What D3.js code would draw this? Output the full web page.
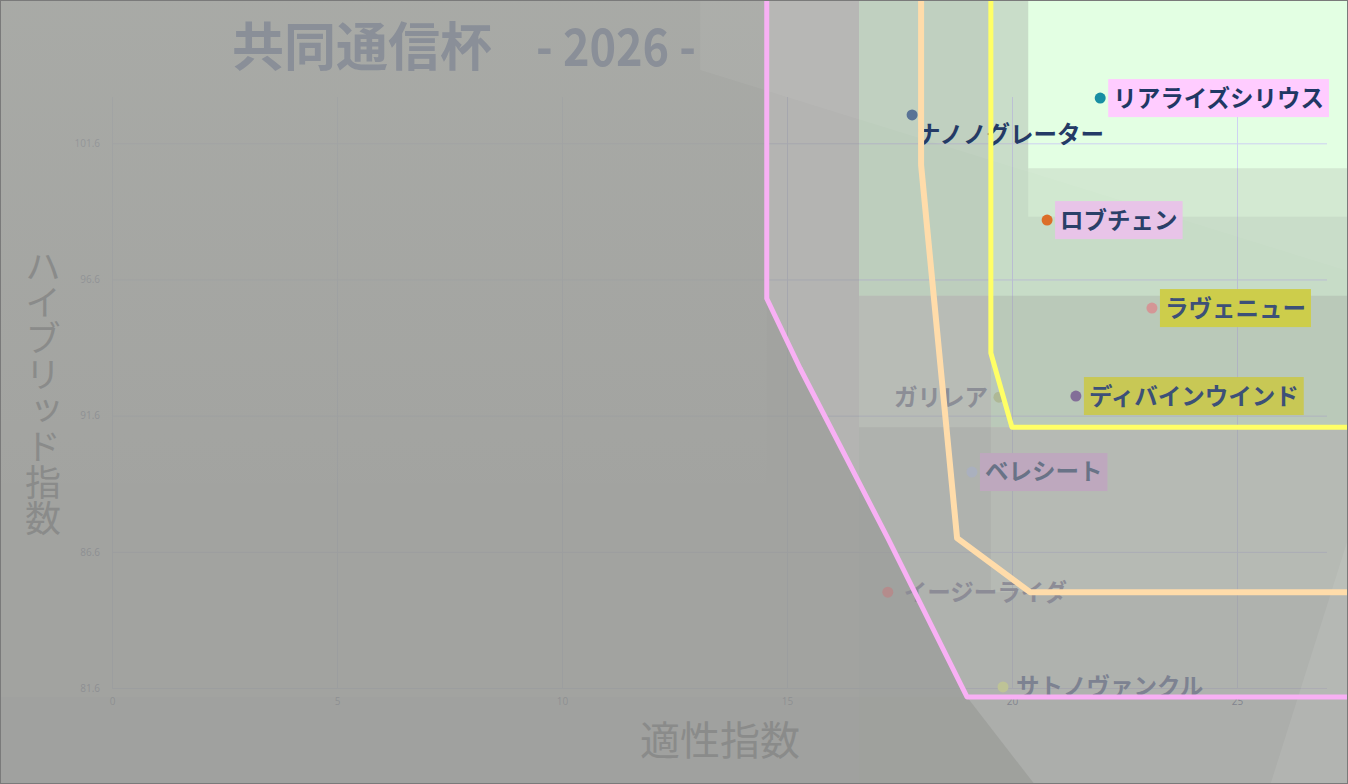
<!DOCTYPE html>
<html>
<head>
<meta charset="utf-8">
<script src="https://cdn.jsdelivr.net/npm/d3@7"></script>
<style>
  html, body { margin: 0; padding: 0; background: #fff; }
  svg { display: block; }
  text { font-family: "Noto Sans CJK JP", "Noto Sans", sans-serif; }
</style>
</head>
<body>
<div id="chart"></div>
<script>
// --- data ---
const horses = ["リアライズシリウス", "ナノノグレーター", "ロブチェン", "ラヴェニュー", "ディバインウインド",
                "ガリレア", "ベレシート", "イージーライダ", "サトノヴァンクル"];
const aptitude = [21.96, 17.78, 20.78, 23.11, 21.42, 19.71, 19.11, 17.24, 19.8];   // 適性指数
const hybrid   = [103.26, 102.64, 98.78, 95.55, 92.32, 92.28, 89.53, 85.12, 81.64]; // ハイブリッド指数

const xTicks = [0, 5, 10, 15, 20, 25];
const yTicks = [81.6, 86.6, 91.6, 96.6, 101.6];

// border lines (chart units)
const pinkLine   = [[14.55, 107], [14.55, 95.9], [15.29, 93.34], [17.24, 87.1], [19.0, 81.27], [27.6, 81.27]];
const peachLine  = [[17.98, 107], [17.98, 100.8], [18.78, 87.1], [20.4, 85.12], [27.6, 85.12]];
const yellowLine = [[19.53, 107], [19.53, 93.9], [20.0, 91.17], [27.6, 91.17]];

// grey veil: each layer covers everything except the area right of veilX and above veilY
const veilX = [20.36, 20.36, 16.6, 16.6, 19.53, -3];
const veilY = [100.68, 98.9, 96.0, 91.17, 85.12, 81.27];
const veilAlpha = [0.225, 0.15, 0.27, 0.25, 0.2, 0.1];
// the heaviest veil sits outside the pink line
const outsidePink = [[-3, 107], [14.55, 107], [14.55, 95.9], [15.29, 93.34], [17.24, 87.1], [19.0, 81.27], [21.0, 77], [-3, 77]];
// green tint of the upper right zone
const greenZone = [[16.6, 107], [30, 107], [30, 91.17], [19.53, 91.17], [19.53, 96.0], [16.6, 96.0]];

const labelStyle = {
  "リアライズシリウス": { dot: "#178ea3", box: "#ffccff", ink: "#1f3864" },
  "ナノノグレーター":   { dot: "#5a7396", box: null,      ink: "#243a66", dx: -8, dy: 20 },
  "ロブチェン":         { dot: "#dc6e28", box: "#e8c4e8", ink: "#2a4068" },
  "ラヴェニュー":       { dot: "#d49696", box: "#cdcd4b", ink: "#3c5078" },
  "ディバインウインド": { dot: "#836e98", box: "#c8c855", ink: "#3c5078" },
  "ガリレア":           { dot: "#aeb896", box: null,      ink: "#8c8e96", left: true },
  "ベレシート":         { dot: "#aab0be", box: "#bea8be", ink: "#697387" },
  "イージーライダ":     { dot: "#b48c8c", box: null,      ink: "#8c8c96", dx: 3 },
  "サトノヴァンクル":   { dot: "#bec396", box: null,      ink: "#7d8291" }
};

const W = 1348, H = 784;
const plot = { left: 112, right: 1327, top: 97, bottom: 688 };

const x = d3.scaleLinear().domain([0, 27]).range([plot.left, plot.right]);
const y = d3.scaleLinear().domain([81.6, 103.3]).range([plot.bottom, plot.top]);
const line = d3.line().x(d => x(d[0])).y(d => y(d[1]));

const svg = d3.select("#chart").append("svg")
    .attr("width", W)
    .attr("height", H);

const defs = svg.append("defs");
const grad = defs.append("linearGradient")
    .attr("id", "topGlow").attr("x1", 0).attr("y1", 0).attr("x2", 0).attr("y2", 1);
grad.append("stop").attr("offset", "0%").attr("stop-color", "#e8f0e4").attr("stop-opacity", 0.09);
grad.append("stop").attr("offset", "100%").attr("stop-color", "#e8f0e4").attr("stop-opacity", 0);

// base
svg.append("rect").attr("width", W).attr("height", H).attr("fill", "#ffffff");
svg.append("rect")
    .attr("x", x(16.6)).attr("y", 0)
    .attr("width", W - x(16.6)).attr("height", H)
    .attr("fill", "#f0f8ee");
svg.append("path")
    .attr("d", line(greenZone) + "Z")
    .attr("fill", "#e2ffe2");

// grid + ticks
const gx = svg.append("g")
    .attr("transform", `translate(0,${plot.bottom})`)
    .call(d3.axisBottom(x).tickValues(xTicks).tickSize(-(plot.bottom - plot.top)).tickPadding(10));
const gy = svg.append("g")
    .attr("transform", `translate(${plot.left},0)`)
    .call(d3.axisLeft(y).tickValues(yTicks).tickFormat(d3.format(".1f"))
          .tickSize(-(plot.right - plot.left)).tickPadding(12));

[gx, gy].forEach(g => {
    g.select(".domain").remove();
    g.selectAll(".tick line").attr("stroke", "#ccd0f2").attr("stroke-width", 1);
    g.selectAll(".tick text")
        .attr("fill", "#4b5285")
        .style("font-size", "10px")
        .style("font-family", "'Open Sans', 'DejaVu Sans', sans-serif");
});

// veil
const veil = svg.append("g");
veilX.forEach((vx, i) => {
    const cx = x(vx), cy = y(veilY[i]);
    veil.append("path")
        .attr("d", `M-10,-10H${W + 10}V${H + 10}H-10Z M${cx},-20H${W + 20}V${cy}H${cx}Z`)
        .attr("fill-rule", "evenodd")
        .attr("fill", "#969795")
        .attr("opacity", veilAlpha[i]);
});
veil.append("path")
    .attr("d", line(outsidePink) + "Z")
    .attr("fill", "#969795")
    .attr("opacity", 0.6);

// soft light shapes
veil.append("rect")
    .attr("x", 0).attr("y", 0)
    .attr("width", x(14.55)).attr("height", y(88))
    .attr("fill", "url(#topGlow)");
veil.append("path")
    .attr("d", line([[13.07, 104.29], [27.6, 96.84], [27.6, 107], [13.07, 107]]) + "Z")
    .attr("fill", "#ffffff")
    .attr("opacity", 0.05);
veil.append("path")
    .attr("d", line([[25.73, 78.0], [27.6, 87.77], [27.6, 78.0]]) + "Z")
    .attr("fill", "#ffffff")
    .attr("opacity", 0.08);

// titles
svg.append("text")
    .attr("x", 232).attr("y", 66)
    .attr("fill", "#8a8f98")
    .style("font-size", "52px")
    .style("font-weight", "bold")
    .text("共同通信杯");
svg.append("text")
    .attr("x", 536).attr("y", 66)
    .attr("fill", "#8a8f98")
    .attr("textLength", 160)
    .attr("lengthAdjust", "spacingAndGlyphs")
    .style("font-size", "52px")
    .style("font-weight", "bold")
    .style("white-space", "pre")
    .text("- 2026 -");

svg.append("text")
    .attr("x", 720).attr("y", 755)
    .attr("text-anchor", "middle")
    .attr("fill", "#8a8b8a")
    .style("font-size", "40px")
    .text("適性指数");

svg.append("text")
    .attr("x", 43).attr("y", 248)
    .attr("fill", "#8a8b8a")
    .style("font-size", "36px")
    .style("writing-mode", "vertical-rl")
    .style("text-orientation", "upright")
    .text("ハイブリッド指数");

// points + labels
const horseData = horses.map((name, i) => ({ name, apt: aptitude[i], hyb: hybrid[i] }));

const marks = svg.append("g").selectAll("g")
    .data(horseData)
    .join("g")
    .attr("transform", d => `translate(${x(d.apt)},${y(d.hyb)})`);

marks.each(function(d) {
    const g = d3.select(this);
    const st = labelStyle[d.name];
    const box = g.append("rect");
    const t = g.append("text")
        .attr("x", st.left ? -11 : 13 + (st.dx || 0))
        .attr("y", st.dy || 0)
        .attr("dy", "0.36em")
        .attr("text-anchor", st.left ? "end" : "start")
        .attr("fill", st.ink)
        .style("font-size", "23.5px")
        .style("font-weight", "bold")
        .text(d.name);
    if (st.box) {
        const w = t.node().getComputedTextLength();
        box.attr("x", 8).attr("y", -19)
            .attr("width", w + 10).attr("height", 38)
            .attr("fill", st.box);
    } else {
        box.remove();
    }
    g.append("circle")
        .attr("r", 5.5)
        .attr("fill", st.dot);
});

// border lines
[[pinkLine, "#f8b0f4", 5], [peachLine, "#ffdcaa", 6], [yellowLine, "#ffff66", 5]].forEach(([pts, col, sw]) => {
    svg.append("path")
        .attr("d", line(pts))
        .attr("fill", "none")
        .attr("stroke", col)
        .attr("stroke-width", sw)
        .attr("stroke-linejoin", "round");
});

// frame
svg.append("rect")
    .attr("x", 0.5).attr("y", 0.5)
    .attr("width", W - 1).attr("height", H - 1)
    .attr("fill", "none")
    .attr("stroke", "#7a7a7a");
</script>
</body>
</html>
